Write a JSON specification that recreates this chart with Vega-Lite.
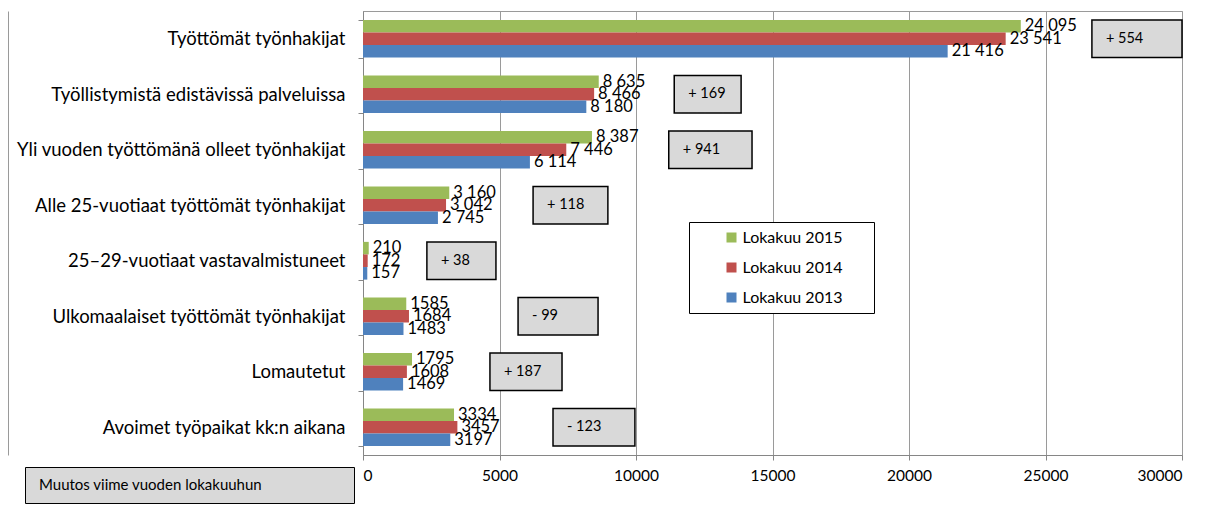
{
  "$schema": "https://vega.github.io/schema/vega-lite/v6.json",
  "width": 819,
  "height": 444,
  "autosize": {"type": "none"},
  "padding": {"left": 363, "top": 11, "right": 29, "bottom": 55},
  "background": "white",
  "config": {
    "font": "Lato",
    "view": {"stroke": "#9a9a9a"},
    "axis": {"labelColor": "black", "domainColor": "#868686", "tickColor": "#868686", "gridColor": "#9a9a9a"}
  },
  "datasets": {
    "bars": [
      {"ryhma": "Työttömät työnhakijat", "sarja": "Lokakuu 2015", "arvo": 24095, "teksti": "24 095"},
      {"ryhma": "Työttömät työnhakijat", "sarja": "Lokakuu 2014", "arvo": 23541, "teksti": "23 541"},
      {"ryhma": "Työttömät työnhakijat", "sarja": "Lokakuu 2013", "arvo": 21416, "teksti": "21 416"},
      {"ryhma": "Työllistymistä edistävissä palveluissa", "sarja": "Lokakuu 2015", "arvo": 8635, "teksti": "8 635"},
      {"ryhma": "Työllistymistä edistävissä palveluissa", "sarja": "Lokakuu 2014", "arvo": 8466, "teksti": "8 466"},
      {"ryhma": "Työllistymistä edistävissä palveluissa", "sarja": "Lokakuu 2013", "arvo": 8180, "teksti": "8 180"},
      {"ryhma": "Yli vuoden työttömänä olleet työnhakijat", "sarja": "Lokakuu 2015", "arvo": 8387, "teksti": "8 387"},
      {"ryhma": "Yli vuoden työttömänä olleet työnhakijat", "sarja": "Lokakuu 2014", "arvo": 7446, "teksti": "7 446"},
      {"ryhma": "Yli vuoden työttömänä olleet työnhakijat", "sarja": "Lokakuu 2013", "arvo": 6114, "teksti": "6 114"},
      {"ryhma": "Alle 25-vuotiaat työttömät työnhakijat", "sarja": "Lokakuu 2015", "arvo": 3160, "teksti": "3 160"},
      {"ryhma": "Alle 25-vuotiaat työttömät työnhakijat", "sarja": "Lokakuu 2014", "arvo": 3042, "teksti": "3 042"},
      {"ryhma": "Alle 25-vuotiaat työttömät työnhakijat", "sarja": "Lokakuu 2013", "arvo": 2745, "teksti": "2 745"},
      {"ryhma": "25–29-vuotiaat vastavalmistuneet", "sarja": "Lokakuu 2015", "arvo": 210, "teksti": "210"},
      {"ryhma": "25–29-vuotiaat vastavalmistuneet", "sarja": "Lokakuu 2014", "arvo": 172, "teksti": "172"},
      {"ryhma": "25–29-vuotiaat vastavalmistuneet", "sarja": "Lokakuu 2013", "arvo": 157, "teksti": "157"},
      {"ryhma": "Ulkomaalaiset työttömät työnhakijat", "sarja": "Lokakuu 2015", "arvo": 1585, "teksti": "1585"},
      {"ryhma": "Ulkomaalaiset työttömät työnhakijat", "sarja": "Lokakuu 2014", "arvo": 1684, "teksti": "1684"},
      {"ryhma": "Ulkomaalaiset työttömät työnhakijat", "sarja": "Lokakuu 2013", "arvo": 1483, "teksti": "1483"},
      {"ryhma": "Lomautetut", "sarja": "Lokakuu 2015", "arvo": 1795, "teksti": "1795"},
      {"ryhma": "Lomautetut", "sarja": "Lokakuu 2014", "arvo": 1608, "teksti": "1608"},
      {"ryhma": "Lomautetut", "sarja": "Lokakuu 2013", "arvo": 1469, "teksti": "1469"},
      {"ryhma": "Avoimet työpaikat kk:n aikana", "sarja": "Lokakuu 2015", "arvo": 3334, "teksti": "3334"},
      {"ryhma": "Avoimet työpaikat kk:n aikana", "sarja": "Lokakuu 2014", "arvo": 3457, "teksti": "3457"},
      {"ryhma": "Avoimet työpaikat kk:n aikana", "sarja": "Lokakuu 2013", "arvo": 3197, "teksti": "3197"}
    ],
    "muutokset": [
      {"ryhma": "Työttömät työnhakijat", "muutos": "+ 554", "alku": 26700, "loppu": 30000},
      {"ryhma": "Työllistymistä edistävissä palveluissa", "muutos": "+ 169", "alku": 11400, "loppu": 13850},
      {"ryhma": "Yli vuoden työttömänä olleet työnhakijat", "muutos": "+ 941", "alku": 11200, "loppu": 14250},
      {"ryhma": "Alle 25-vuotiaat työttömät työnhakijat", "muutos": "+ 118", "alku": 6230, "loppu": 8970},
      {"ryhma": "25–29-vuotiaat vastavalmistuneet", "muutos": "+ 38", "alku": 2340, "loppu": 4870},
      {"ryhma": "Ulkomaalaiset työttömät työnhakijat", "muutos": "- 99", "alku": 5680, "loppu": 8610},
      {"ryhma": "Lomautetut", "muutos": "+ 187", "alku": 4650, "loppu": 7290},
      {"ryhma": "Avoimet työpaikat kk:n aikana", "muutos": "- 123", "alku": 6960, "loppu": 9960}
    ]
  },
  "encoding": {
    "y": {
      "field": "ryhma",
      "type": "nominal",
      "sort": null,
      "scale": {
        "domain": ["Työttömät työnhakijat", "Työllistymistä edistävissä palveluissa", "Yli vuoden työttömänä olleet työnhakijat", "Alle 25-vuotiaat työttömät työnhakijat", "25–29-vuotiaat vastavalmistuneet", "Ulkomaalaiset työttömät työnhakijat", "Lomautetut", "Avoimet työpaikat kk:n aikana"],
        "paddingInner": 0.32,
        "paddingOuter": 0.16
      },
      "axis": null
    }
  },
  "layer": [
    {
      "data": {"name": "bars"},
      "mark": {"type": "bar"},
      "encoding": {
        "y": {
          "field": "ryhma",
          "type": "nominal",
          "sort": null,
          "axis": {"orient": "left", "title": null, "labelFontSize": 18.5, "labelPadding": 13, "tickSize": 5, "tickBand": "extent", "labelLimit": 400}
        },
        "x": {
          "field": "arvo",
          "type": "quantitative",
          "scale": {"domain": [0, 30000]},
          "axis": {"title": null, "values": [0, 5000, 10000, 15000, 20000, 25000, 30000], "format": "d", "labelFontSize": 15.5, "labelPadding": 8, "tickSize": 5, "grid": true}
        },
        "yOffset": {"field": "sarja", "type": "nominal", "scale": {"domain": ["Lokakuu 2015", "Lokakuu 2014", "Lokakuu 2013"], "paddingInner": 0, "paddingOuter": 0}},
        "color": {
          "field": "sarja",
          "type": "nominal",
          "scale": {"domain": ["Lokakuu 2015", "Lokakuu 2014", "Lokakuu 2013"], "range": ["#9BBB59", "#C0504D", "#4F81BD"]},
          "legend": {
            "title": null,
            "orient": "none",
            "legendX": 326,
            "legendY": 211,
            "fillColor": "white",
            "strokeColor": "black",
            "padding": 7.5,
            "rowPadding": 14,
            "symbolType": "M-1,-1H1V1H-1ZM27,0",
            "symbolSize": 100,
            "symbolStrokeWidth": 0,
            "symbolOffset": 27,
            "labelOffset": 3,
            "labelFontSize": 16,
            "labelColor": "black"
          }
        }
      }
    },
    {
      "data": {"name": "bars"},
      "mark": {"type": "text", "align": "left", "baseline": "middle", "dx": 4, "fontSize": 16.5, "color": "black"},
      "encoding": {
        "x": {"field": "arvo", "type": "quantitative"},
        "yOffset": {"field": "sarja", "type": "nominal"},
        "text": {"field": "teksti"}
      }
    },
    {
      "data": {"name": "muutokset"},
      "mark": {"type": "bar", "fill": "#D9D9D9", "stroke": "black", "strokeWidth": 1.5},
      "encoding": {
        "x": {"field": "alku", "type": "quantitative"},
        "x2": {"field": "loppu"},
        "strokeDash": {
          "datum": "Muutos viime vuoden lokakuuhun",
          "scale": {"range": [[1, 0]]},
          "legend": {
            "title": null,
            "orient": "none",
            "legendX": -338,
            "legendY": 456,
            "fillColor": "#D9D9D9",
            "strokeColor": "black",
            "padding": 10,
            "symbolType": "M0,0M301,0",
            "symbolSize": 4,
            "symbolOpacity": 0,
            "symbolStrokeWidth": 0,
            "labelOffset": -11,
            "labelFontSize": 15,
            "labelColor": "black",
            "labelLimit": 500
          }
        }
      }
    },
    {
      "data": {"name": "muutokset"},
      "mark": {"type": "text", "align": "left", "baseline": "middle", "dx": 14, "fontSize": 14.5, "color": "black"},
      "encoding": {
        "x": {"field": "alku", "type": "quantitative"},
        "y": {
          "field": "ryhma",
          "type": "nominal",
          "sort": null,
          "axis": {"orient": "left", "offset": 355, "labels": false, "ticks": false, "grid": false, "title": null, "domainColor": "#9a9a9a"}
        },
        "text": {"field": "muutos"}
      }
    }
  ],
  "resolve": {"axis": {"y": "independent"}}
}
